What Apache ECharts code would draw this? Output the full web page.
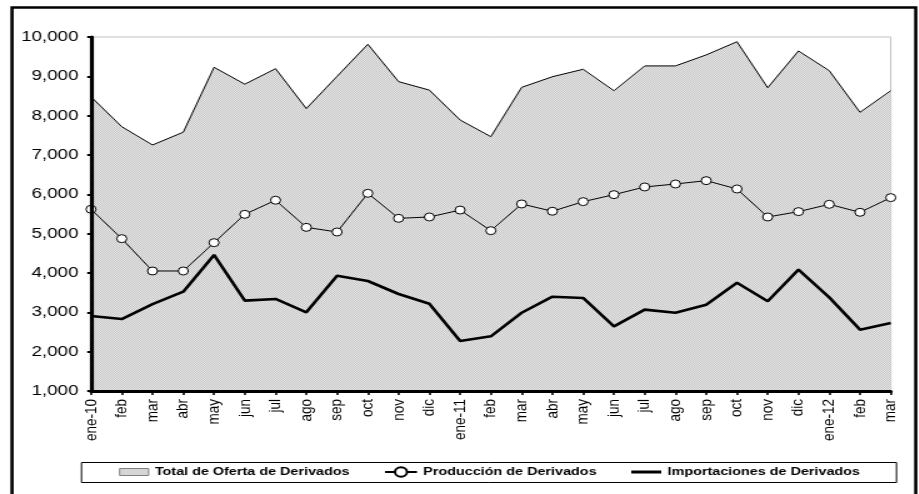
<!DOCTYPE html>
<html>
<head>
<meta charset="utf-8">
<script src="https://cdn.jsdelivr.net/npm/echarts@6/dist/echarts.min.js"></script>
<style>
html,body{margin:0;padding:0;background:#fff;overflow:hidden;}
#c{width:735.2px;height:494px;transform:scaleX(1.25);transform-origin:0 0;}
</style>
</head>
<body>
<div id="c"></div>
<script>
var categories = ['ene-10','feb','mar','abr','may','jun','jul','ago','sep','oct','nov','dic','ene-11','feb','mar','abr','may','jun','jul','ago','sep','oct','nov','dic','ene-12','feb','mar'];
var totalOferta = [8480,7720,7255,7580,9230,8800,9195,8180,9000,9815,8865,8650,7890,7466,8720,8990,9180,8635,9265,9265,9545,9880,8710,9645,9145,8085,8635];
var produccion = [5620,4873,4051,4051,4771,5492,5850,5160,5043,6026,5390,5424,5600,5076,5755,5570,5814,5992,6187,6263,6348,6136,5424,5560,5746,5543,5916];
var importaciones = [2907,2830,3210,3525,4458,3297,3340,3000,3932,3797,3466,3220,2271,2390,2990,3398,3365,2644,3068,2990,3195,3754,3280,4085,3380,2560,2730];
var yTicks = {min:1000, max:10000, interval:1000};

var pc = document.createElement('canvas');
pc.width = 2; pc.height = 2;
var g = pc.getContext('2d');
g.fillStyle = '#e6e6e6'; g.fillRect(0,0,2,2);
g.fillStyle = '#c6c6c6'; g.fillRect(0,0,1,1); g.fillRect(1,1,1,1);
var pattern = {image: pc, repeat: 'repeat'};

var FONT = 'Liberation Sans, Arial, sans-serif';
var chart = echarts.init(document.getElementById('c'), null, {renderer:'canvas'});
var lgText = {fontFamily:FONT, fontWeight:'bold', fontSize:11.5, color:'#000'};
chart.setOption({
  animation:false,
  textStyle:{fontFamily:FONT},
  grid:{left:72.8, right:22.4, top:37, bottom:103, show:true, borderColor:'#c0c0c0', borderWidth:1, backgroundColor:'transparent'},
  graphic:[
    {type:'rect', shape:{x:9.6, y:7.5, width:723, height:500}, style:{fill:'none', stroke:'#000', lineWidth:2.6}, z:0},
    {type:'rect', shape:{x:65.2, y:462.5, width:652, height:20}, style:{fill:'#fff', stroke:'#000', lineWidth:1}, z:1}
  ],
  legend:[
    {data:[{name:'Total de Oferta de Derivados', icon:'rect', itemStyle:{color:pattern, borderColor:'#808080', borderWidth:1}}], left:95.2, top:466, itemWidth:23.2, itemHeight:7, itemGap:0, textStyle:lgText, z:5, padding:0, selectedMode:false},
    {data:[{name:'Producción de Derivados'}], left:307, top:466, itemWidth:25.6, itemHeight:12, textStyle:lgText, z:5, padding:0, selectedMode:false},
    {data:[{name:'Importaciones de Derivados', icon:'rect', itemStyle:{color:'#000'}}], left:505, top:466, itemWidth:24, itemHeight:3, textStyle:lgText, z:5, padding:0, selectedMode:false}
  ],
  xAxis:{
    type:'category', data:categories, boundaryGap:false, z:6,
    axisLine:{onZero:false, lineStyle:{color:'#000', width:3}},
    axisTick:{show:true, alignWithLabel:true, length:4, lineStyle:{color:'#000', width:1.6}},
    axisLabel:{rotate:90, fontSize:13.5, color:'#000', margin:8, interval:0, fontFamily:FONT},
    splitLine:{show:false}
  },
  yAxis:{
    type:'value', min:yTicks.min, max:yTicks.max, interval:yTicks.interval, z:6,
    axisLine:{show:true, lineStyle:{color:'#000', width:3.2}},
    axisTick:{show:true, length:3, lineStyle:{color:'#000', width:2}},
    axisLabel:{fontSize:15, color:'#000', margin:10, fontFamily:FONT,
      formatter:function(v){return v.toLocaleString('en-US');}},
    splitLine:{show:false}
  },
  series:[
    {name:'Total de Oferta de Derivados', type:'line', data:totalOferta, symbol:'none',
      lineStyle:{color:'#000', width:1}, itemStyle:{color:'#d8d8d8'},
      areaStyle:{color:pattern, opacity:1, origin:'start'}, z:2},
    {name:'Producción de Derivados', type:'line', data:produccion, symbol:'circle', symbolSize:8,
      lineStyle:{color:'#000', width:1}, itemStyle:{color:'#fff', borderColor:'#000', borderWidth:1}, z:4},
    {name:'Importaciones de Derivados', type:'line', data:importaciones, symbol:'none',
      lineStyle:{color:'#000', width:2.6}, itemStyle:{color:'#000'}, z:3}
  ]
});
</script>
</body>
</html>
